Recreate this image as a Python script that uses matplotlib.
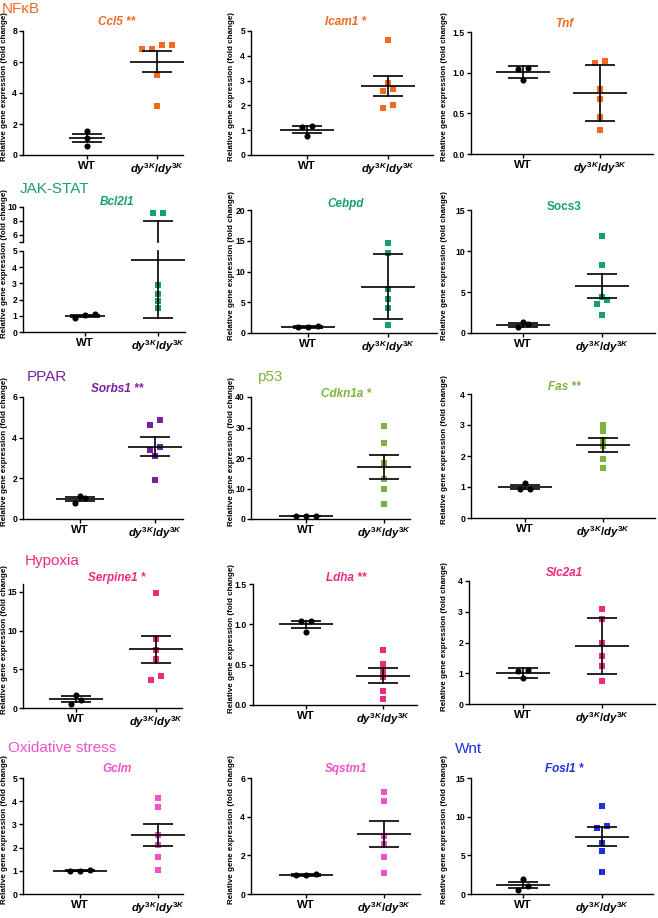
import matplotlib
matplotlib.use("Agg")
import matplotlib.pyplot as plt
import numpy as np

plt.rcParams['font.family'] = ['Liberation Sans', 'DejaVu Sans']
plt.rcParams['font.weight'] = 'bold'
plt.rcParams['mathtext.fontset'] = 'custom'
plt.rcParams['mathtext.rm'] = 'Liberation Sans:bold'
plt.rcParams['mathtext.it'] = 'Liberation Sans:italic:bold'
plt.rcParams['mathtext.bf'] = 'Liberation Sans:bold'

# ---------------- data ----------------
groups = ["WT", r"$dy^{3K}/dy^{3K}$"]
genes = ["Ccl5", "Icam1", "Tnf", "Bcl2l1", "Cebpd", "Socs3", "Sorbs1", "Cdkn1a",
         "Fas", "Serpine1", "Ldha", "Slc2a1", "Gclm", "Sqstm1", "Fosl1"]
stars = ["**", "*", "", "", "", "", "**", "*", "**", "*", "**", "", "", "", "*"]
gene_italic = [True, True, True, True, True, False, True, True, True, True, True, True, True, True, True]
pathways = ["NFκB", "JAK-STAT", "PPAR", "p53", "Hypoxia", "Oxidative stress", "Wnt"]

ccl5_wt = [1.55, 1.10, 0.60]
ccl5_dy = [6.85, 7.08, 6.82, 7.10, 5.17, 3.13]
icam1_wt = [1.12, 1.16, 0.78]
icam1_dy = [4.62, 2.90, 2.66, 2.57, 2.02, 1.88]
tnf_wt = [1.04, 1.06, 0.91]
tnf_dy = [1.12, 1.14, 0.80, 0.68, 0.45, 0.30]
bcl2l1_wt = [1.03, 1.10, 0.89]
bcl2l1_dy = [9.10, 9.15, 2.90, 2.35, 1.92, 1.49]
cebpd_wt = [1.14, 0.98, 0.92]
cebpd_dy = [14.6, 13.0, 7.1, 5.5, 4.1, 1.3]
socs3_wt = [1.35, 0.72, 1.08]
socs3_dy = [11.84, 8.30, 4.38, 4.05, 3.53, 2.23]
sorbs1_wt = [1.15, 1.03, 0.79]
sorbs1_dy = [4.64, 4.87, 3.41, 3.54, 3.08, 1.90]
cdkn1a_wt = [1.00, 1.05, 0.95]
cdkn1a_dy = [30.6, 25.0, 18.3, 13.1, 9.9, 4.9]
fas_wt = [1.12, 0.93, 0.93]
fas_dy = [3.00, 2.80, 2.52, 2.33, 1.91, 1.61]
serpine1_wt = [1.72, 1.08, 0.52]
serpine1_dy = [14.8, 8.94, 7.47, 6.26, 4.19, 3.67]
ldha_wt = [1.04, 1.04, 0.91]
ldha_dy = [0.68, 0.51, 0.42, 0.35, 0.17, 0.07]
slc2a1_wt = [1.07, 1.12, 0.83]
slc2a1_dy = [3.10, 2.76, 1.99, 1.55, 1.23, 0.75]
gclm_wt = [1.00, 1.02, 0.99]
gclm_dy = [4.15, 3.75, 2.55, 2.10, 1.60, 1.05]
sqstm1_wt = [1.00, 1.05, 0.97]
sqstm1_dy = [5.30, 4.80, 3.00, 2.60, 1.90, 1.10]
fosl1_wt = [1.90, 0.55, 1.05]
fosl1_dy = [11.4, 8.8, 8.5, 6.6, 5.6, 2.8]

wt_mean = [1.08, 1.02, 1.007, 1.00, 1.00, 1.02, 1.00, 1.00, 1.00, 1.16, 1.00, 1.02, 1.00, 1.00, 1.17]
wt_err = [0.27, 0.13, 0.075, 0.06, 0.12, 0.25, 0.10, 0.10, 0.07, 0.37, 0.045, 0.16, 0.03, 0.05, 0.40]
dy_mean = [6.03, 2.77, 0.75, 4.47, 7.55, 5.72, 3.56, 16.97, 2.36, 7.55, 0.365, 1.89, 2.53, 3.12, 7.40]
dy_err = [0.65, 0.40, 0.34, 3.60, 5.27, 1.47, 0.45, 3.90, 0.22, 1.68, 0.093, 0.90, 0.48, 0.67, 1.25]

y_max = [8, 5, 1.5, 5, 20, 15, 6, 40, 4, 16, 1.5, 4, 5, 6, 15]
y_step = [2, 1, 0.5, 1, 5, 5, 2, 10, 1, 5, 0.5, 1, 1, 2, 5]
bcl2l1_upper_ticks = [5, 6, 8, 10]
bcl2l1_upper_labels = ["", "6", "8", "10"]

wt_values = [ccl5_wt, icam1_wt, tnf_wt, bcl2l1_wt, cebpd_wt, socs3_wt, sorbs1_wt, cdkn1a_wt,
             fas_wt, serpine1_wt, ldha_wt, slc2a1_wt, gclm_wt, sqstm1_wt, fosl1_wt]
dy_values = [ccl5_dy, icam1_dy, tnf_dy, bcl2l1_dy, cebpd_dy, socs3_dy, sorbs1_dy, cdkn1a_dy,
             fas_dy, serpine1_dy, ldha_dy, slc2a1_dy, gclm_dy, sqstm1_dy, fosl1_dy]

# ---------------- styles / layout (pixels) ----------------
c_nfkb, c_jak, c_ppar, c_p53 = "#F26A21", "#17A06E", "#7B1FA2", "#7DB43F"
c_hyp, c_ox, c_wnt = "#EE2A7B", "#F052C8", "#1F2FE0"
gene_color = [c_nfkb] * 3 + [c_jak] * 3 + [c_ppar, c_p53, c_p53] + [c_hyp] * 3 + [c_ox, c_ox, c_wnt]
pathway_color = [c_nfkb, c_jak, c_ppar, c_p53, c_hyp, c_ox, c_wnt]
# (left x, baseline y) in pixels
pathway_pos = [(2, 13), (20, 193), (27, 381), (257, 381), (25, 565), (8, 752), (455, 753)]

# (left, top, right, bottom, x of WT, x of dy) in pixels
layout = [
    (23, 31, 183, 155, 87, 157), (251, 31, 433, 155, 307, 388), (471, 32, 653, 154, 523, 600),
    (23, 207, 185, 332, 85, 158), (251, 210, 437, 333, 308, 388), (471, 210, 655, 333, 523, 602),
    (23, 397, 183, 519, 80, 155), (251, 397, 410, 519, 306, 384), (471, 394, 655, 518, 525, 603),
    (23, 584, 182, 708, 76, 156), (253, 584, 417, 705, 306, 383), (469, 581, 655, 704, 523, 602),
    (23, 778, 183, 894, 80, 158), (251, 778, 420, 894, 306, 384), (471, 778, 653, 894, 523, 602),
]
title_base = [25, 25, 27, 205, 207, 210, 392, 397, 390, 581, 581, 576, 772, 772, 772]
title_x_col = [117, 346, 564]
ylabel_x_col = [4.5, 231.5, 444.5]
wt_half_px = [18, 27, 27, 20, 27, 27, 24, 27, 27, 27, 27, 27, 27, 27, 27]
bcl_upper = (207, 242)
bcl_lower = (251, 332)

W, H = 658, 918
fig = plt.figure(figsize=(W / 100, H / 100), dpi=100)


def add_axes_px(L, T, R, B):
    return fig.add_axes([L / W, 1 - B / H, (R - L) / W, (B - T) / H])


def style(ax):
    for s in ("top", "right"):
        ax.spines[s].set_visible(False)
    for s in ("left", "bottom"):
        ax.spines[s].set_linewidth(1.0)
    ax.tick_params(axis="both", length=3, width=1.0, direction="out", pad=1.3)
    ax.tick_params(axis="y", labelsize=6.2)
    ax.tick_params(axis="x", labelsize=8.2, pad=1.6)
    ax.patch.set_alpha(0)


def swarm_offsets(vals, ppu, thresh=5.0, step=10.0):
    vals = np.asarray(vals, float)
    order = np.argsort(vals)
    offs = np.zeros(len(vals))
    i = 0
    while i < len(order):
        start = vals[order[i]]
        j = i
        while j + 1 < len(order) and (vals[order[j + 1]] - start) * ppu < thresh:
            j += 1
        row = order[i:j + 1]
        n = len(row)
        for k, idx in enumerate(row):
            offs[idx] = (k - (n - 1) / 2) * step
        i = j + 1
    return offs


def draw_points(ax, xc, vals, color, marker, ms, ppu, unit_px):
    if len(vals) == 0:
        return
    offs = swarm_offsets(vals, ppu) / unit_px
    ax.plot(xc + offs, vals, ls="none", marker=marker, ms=ms, color=color,
            mec=color, mew=0, zorder=3, clip_on=False)


def hline(ax, xc, y, half, lw=1.2):
    ax.plot([xc - half, xc + half], [y, y], color="black", lw=lw, zorder=4,
            solid_capstyle="butt", clip_on=False)


def draw_bars(ax, xc, mean, err, unit_px, half_px=27):
    hw, cw = half_px / unit_px, 15 / unit_px
    hline(ax, xc, mean, hw)
    ax.plot([xc, xc], [mean - err, mean + err], color="black", lw=1.2, zorder=4, clip_on=False)
    hline(ax, xc, mean - err, cw)
    hline(ax, xc, mean + err, cw)


def ylabel(col, yc):
    fig.text(ylabel_x_col[col] / W, 1 - yc / H, "Relative gene expression (fold change)",
             rotation=90, ha="center", va="center", fontsize=5.8, fontweight="bold")


def fmt_ticks(step):
    return (lambda v: f"{v:.1f}") if step < 1 else (lambda v: f"{v:g}")


for i, gene in enumerate(genes):
    L, T, R, B, xw, xd = layout[i]
    col = i % 3
    unit_px = xd - xw
    xlim = ((L - xw) / unit_px, (R - xw) / unit_px)
    color = gene_color[i]
    wt = np.array(wt_values[i])
    dy = np.array(dy_values[i])
    if gene == "Bcl2l1":
        axu = add_axes_px(L, bcl_upper[0], R, bcl_upper[1])
        axl = add_axes_px(L, bcl_lower[0], R, bcl_lower[1])
        for a in (axu, axl):
            style(a)
            a.set_xlim(*xlim)
        axu.spines["bottom"].set_visible(False)
        axu.set_xticks([])
        axu.set_ylim(5, 10)
        axu.set_yticks(bcl2l1_upper_ticks)
        axu.set_yticklabels(bcl2l1_upper_labels)
        axl.set_ylim(0, 5)
        axl.set_yticks(np.arange(0, 5.01, 1))
        axl.set_yticklabels([f"{v:g}" for v in np.arange(0, 5.01, 1)])
        axl.set_xticks([0, 1])
        axl.set_xticklabels(groups)
        ppu_u = (bcl_upper[1] - bcl_upper[0]) / 5
        ppu_l = (bcl_lower[1] - bcl_lower[0]) / 5
        draw_points(axl, 0, wt, "black", "o", 4.4, ppu_l, unit_px)
        draw_points(axu, 1, dy[dy > 5], color, "s", 4.7, ppu_u, unit_px)
        draw_points(axl, 1, dy[dy <= 5], color, "s", 4.7, ppu_l, unit_px)
        draw_bars(axl, 0, wt_mean[i], wt_err[i], unit_px, wt_half_px[i])
        m, e = dy_mean[i], dy_err[i]
        hline(axl, 1, m, 27 / unit_px)
        hline(axl, 1, m - e, 15 / unit_px)
        axl.plot([1, 1], [m - e, 5], color="black", lw=1.2, zorder=4, clip_on=False)
        axu.plot([1, 1], [5, m + e], color="black", lw=1.2, zorder=4, clip_on=False)
        hline(axu, 1, m + e, 15 / unit_px)
        ylabel(col, (T + B) / 2 - 6)
    else:
        ax = add_axes_px(L, T, R, B)
        style(ax)
        ax.set_xlim(*xlim)
        ax.set_ylim(0, y_max[i])
        ticks = np.arange(0, y_max[i] + 1e-9, y_step[i])
        ax.set_yticks(ticks)
        f = fmt_ticks(y_step[i])
        ax.set_yticklabels([f(v) for v in ticks])
        ax.set_xticks([0, 1])
        ax.set_xticklabels(groups)
        ppu = (B - T) / y_max[i]
        draw_points(ax, 0, wt, "black", "o", 4.4, ppu, unit_px)
        draw_points(ax, 1, dy, color, "s", 4.7, ppu, unit_px)
        draw_bars(ax, 0, wt_mean[i], wt_err[i], unit_px, wt_half_px[i])
        draw_bars(ax, 1, dy_mean[i], dy_err[i], unit_px)
        ylabel(col, (T + B) / 2 - 6)

    label = gene + ((" " + stars[i]) if stars[i] else "")
    fig.text(title_x_col[col] / W, 1 - title_base[i] / H, label, ha="center", va="baseline",
             fontsize=8.5, fontweight="bold", style="italic" if gene_italic[i] else "normal",
             color=color)

for name, c, (px, py) in zip(pathways, pathway_color, pathway_pos):
    fig.text(px / W, 1 - py / H, name, ha="left", va="baseline", fontsize=11,
             fontweight="normal", color=c)

fig.savefig("out.png", dpi=100)
